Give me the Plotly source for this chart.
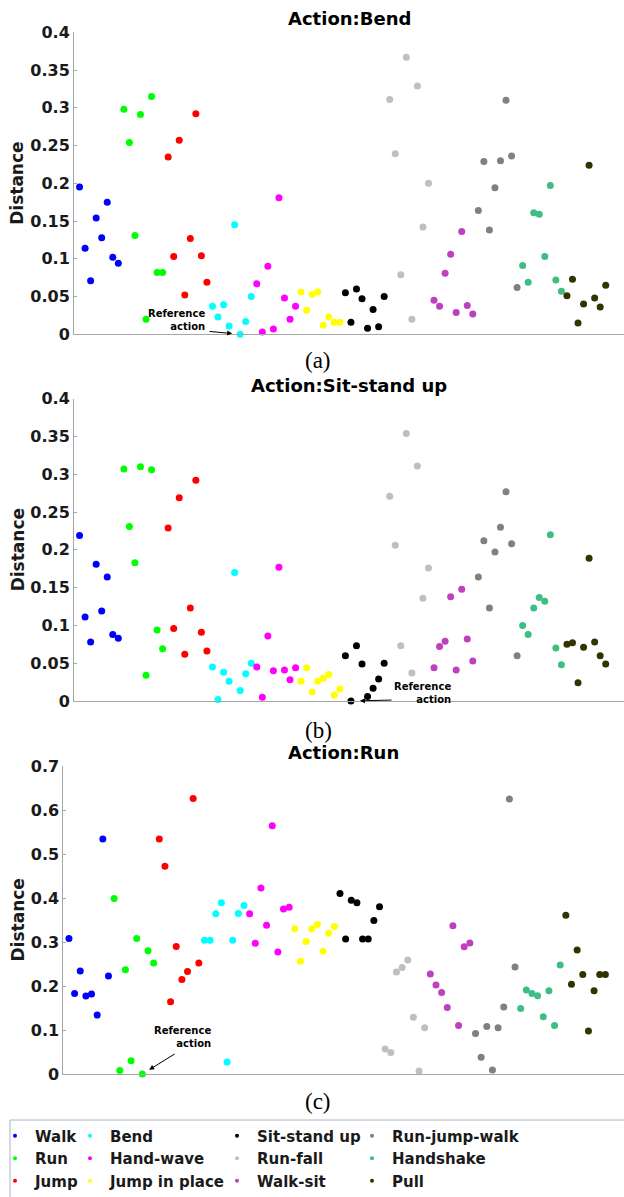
import plotly.graph_objects as go

categories = ["Walk", "Run", "Jump", "Bend", "Hand-wave", "Jump in place",
              "Sit-stand up", "Run-fall", "Walk-sit", "Run-jump-walk", "Handshake", "Pull"]

# Distances to the reference action "Bend" (panel a)
bend_values = [
    [0.195, 0.114, 0.071, 0.154, 0.128, 0.175, 0.102, 0.094],
    [0.298, 0.254, 0.131, 0.291, 0.020, 0.315, 0.082, 0.082],
    [0.235, 0.103, 0.257, 0.052, 0.127, 0.292, 0.104, 0.069],
    [0.037, 0.023, 0.039, 0.011, 0.145, 0.000, 0.017, 0.050],
    [0.067, 0.003, 0.090, 0.007, 0.181, 0.048, 0.020, 0.037],
    [0.056, 0.032, 0.053, 0.056, 0.012, 0.023, 0.016, 0.016],
    [0.055, 0.016, 0.060, 0.047, 0.008, 0.033, 0.010, 0.050],
    [0.311, 0.239, 0.079, 0.367, 0.020, 0.329, 0.142, 0.200],
    [0.045, 0.037, 0.081, 0.106, 0.029, 0.136, 0.038, 0.027],
    [0.164, 0.229, 0.138, 0.194, 0.230, 0.310, 0.236, 0.062],
    [0.091, 0.069, 0.161, 0.159, 0.103, 0.197, 0.072, 0.057],
    [0.051, 0.073, 0.015, 0.040, 0.224, 0.048, 0.036, 0.065],
]

# Distances to the reference action "Sit-stand up" (panel b)
sit_values = [
    [0.219, 0.111, 0.078, 0.181, 0.119, 0.164, 0.088, 0.083],
    [0.307, 0.231, 0.183, 0.310, 0.034, 0.306, 0.094, 0.069],
    [0.229, 0.096, 0.269, 0.062, 0.123, 0.292, 0.091, 0.066],
    [0.045, 0.002, 0.038, 0.026, 0.170, 0.014, 0.036, 0.050],
    [0.045, 0.005, 0.086, 0.040, 0.177, 0.041, 0.028, 0.044],
    [0.026, 0.044, 0.012, 0.026, 0.030, 0.035, 0.008, 0.016],
    [0.060, 0.000, 0.073, 0.049, 0.006, 0.017, 0.029, 0.050],
    [0.271, 0.206, 0.073, 0.354, 0.037, 0.311, 0.136, 0.176],
    [0.044, 0.072, 0.079, 0.138, 0.041, 0.148, 0.082, 0.053],
    [0.164, 0.212, 0.123, 0.197, 0.230, 0.277, 0.208, 0.060],
    [0.100, 0.088, 0.123, 0.137, 0.132, 0.220, 0.070, 0.048],
    [0.075, 0.077, 0.024, 0.071, 0.189, 0.078, 0.060, 0.049],
]

# Distances to the reference action "Run" (panel c)
run_values = [
    [0.308, 0.183, 0.234, 0.177, 0.182, 0.134, 0.534, 0.223],
    [0.399, 0.008, 0.237, 0.030, 0.308, 0.000, 0.280, 0.252],
    [0.534, 0.472, 0.164, 0.290, 0.215, 0.233, 0.626, 0.252],
    [0.304, 0.304, 0.364, 0.389, 0.027, 0.304, 0.365, 0.383],
    [0.364, 0.297, 0.423, 0.338, 0.564, 0.277, 0.375, 0.379],
    [0.330, 0.256, 0.301, 0.330, 0.340, 0.279, 0.320, 0.335],
    [0.410, 0.307, 0.395, 0.389, 0.307, 0.307, 0.349, 0.380],
    [0.057, 0.049, 0.232, 0.242, 0.259, 0.129, 0.007, 0.105],
    [0.227, 0.202, 0.185, 0.151, 0.337, 0.110, 0.289, 0.298],
    [0.092, 0.038, 0.108, 0.009, 0.105, 0.152, 0.625, 0.243],
    [0.149, 0.191, 0.183, 0.178, 0.130, 0.189, 0.110, 0.248],
    [0.361, 0.204, 0.282, 0.226, 0.098, 0.189, 0.226, 0.226],
]

titles = ["Action:Bend", "Action:Sit-stand up", "Action:Run"]
sublabels = ["(a)", "(b)", "(c)"]
ticks_small = [0, 0.05, 0.1, 0.15, 0.2, 0.25, 0.3, 0.35, 0.4]
ticklabels_small = ["0", "0.05", "0.1", "0.15", "0.2", "0.25", "0.3", "0.35", "0.4"]
ticks_large = [0, 0.1, 0.2, 0.3, 0.4, 0.5, 0.6, 0.7]
ticklabels_large = ["0", "0.1", "0.2", "0.3", "0.4", "0.5", "0.6", "0.7"]

colors = ["#0000ff", "#00ff00", "#ff0000", "#00ffff", "#ff00ff", "#ffff00",
          "#000000", "#bfbfbf", "#bf40bf", "#808080", "#3dbf82", "#333300"]

W, H = 624, 1197
BOLD = dict(family="DejaVu Sans", weight="bold", color="#1a1a1a")

fig = go.Figure()
panels = [bend_values, sit_values, run_values]
for p, vals in enumerate(panels):
    xa = "x" if p == 0 else f"x{p+1}"
    ya = "y" if p == 0 else f"y{p+1}"
    n = len(vals[0])
    for g, cat in enumerate(categories):
        xs = [g * n + j + 1 for j in range(n)]
        fig.add_trace(go.Scatter(
            x=xs, y=vals[g], mode="markers", name=cat, showlegend=False,
            marker=dict(color=colors[g], size=7, line=dict(width=0)),
            cliponaxis=False, xaxis=xa, yaxis=ya))

# legend entries (small dots), 4 column legends
legend_keys = ["legend", "legend2", "legend3", "legend4"]
for g, cat in enumerate(categories):
    fig.add_trace(go.Scatter(
        x=[None], y=[None], mode="markers", name=cat, showlegend=True,
        marker=dict(color=colors[g], size=4), legend=legend_keys[g // 3]))

def px_x(v):
    return v / W

def px_y(v):
    return 1 - v / H

# axis domains (pixel positions measured from reference)
doms = [
    ((74, W), (32.3, 334.3)),
    ((74, W), (398.7, 701.0)),
    ((63.3, W), (766.0, 1074.0)),
]
axis_common = dict(showline=True, linecolor="#a6a6a6", linewidth=1,
                   showgrid=False, zeroline=False)
layout = dict()
for p, ((x0, x1), (yt, yb)) in enumerate(doms):
    sfx = "" if p == 0 else str(p + 1)
    layout["xaxis" + sfx] = dict(domain=[px_x(x0), px_x(x1)], range=[0, 99.3],
                                 showticklabels=False, ticks="",
                                 anchor="y" + sfx, **axis_common)
    big = p == 2
    layout["yaxis" + sfx] = dict(domain=[px_y(yb), px_y(yt)],
                                 range=[0, 0.7 if big else 0.4],
                                 tickvals=ticks_large if big else ticks_small,
                                 ticktext=ticklabels_large if big else ticklabels_small,
                                 ticks="inside", ticklen=3, tickcolor="#a6a6a6",
                                 tickfont=dict(size=16, **BOLD),
                                 anchor="x" + sfx, **axis_common)

annotations = []
title_y = [18.5, 385, 752]
label_y = [360, 730, 1101]
for p, ((x0, x1), (yt, yb)) in enumerate(doms):
    annotations.append(dict(text=titles[p], x=px_x((x0 + x1) / 2), y=px_y(title_y[p]),
                            xref="paper", yref="paper", showarrow=False,
                            xanchor="center", yanchor="middle",
                            font=dict(size=18, family="DejaVu Sans", weight="bold", color="black")))
    annotations.append(dict(text="Distance", x=px_x(17.5), y=px_y((yt + yb) / 2),
                            xref="paper", yref="paper", showarrow=False, textangle=-90,
                            xanchor="center", yanchor="middle",
                            font=dict(size=17, **BOLD)))
    annotations.append(dict(text=sublabels[p], x=px_x(318), y=px_y(label_y[p]),
                            xref="paper", yref="paper", showarrow=False,
                            xanchor="center", yanchor="middle",
                            font=dict(size=23, family="Liberation Serif", color="black")))

# Reference-action callouts: (axis suffix, target x, target y, text x, text y, tail x, tail y, standoff)
refs = [
    ("", 30, 0.0, 24.0, 0.0185, 24.2, 0.004, 8),
    ("2", 50, 0.0, 68.4, 0.0106, 57.6, 0.0013, 9),
    ("3", 14, 0.0, 26.5, 0.084, 20.0, 0.0477, 8),
]
for sfx, tx, ty, lx, ly, ax, ay, so in refs:
    annotations.append(dict(text="Reference<br>action", x=lx, y=ly,
                            xref="x" + sfx, yref="y" + sfx, showarrow=False,
                            xanchor="right", yanchor="middle", align="right",
                            font=dict(size=10, family="DejaVu Sans", weight="bold", color="black")))
    annotations.append(dict(text="", x=tx, y=ty, ax=ax, ay=ay,
                            xref="x" + sfx, yref="y" + sfx, axref="x" + sfx, ayref="y" + sfx,
                            showarrow=True, arrowhead=2, arrowsize=1, arrowwidth=1,
                            arrowcolor="black", standoff=so))

shapes = [dict(type="rect", xref="paper", yref="paper",
               x0=px_x(10), x1=px_x(W + 2), y0=px_y(H + 2), y1=px_y(1120),
               line=dict(color="#a9b6cc", width=1), fillcolor="rgba(0,0,0,0)")]

legend_text_x = [35, 110, 257, 392]
for k, key in enumerate(legend_keys):
    layout[key] = dict(x=px_x(legend_text_x[k] - 40), y=px_y(1119.5), xanchor="left",
                       yanchor="top", orientation="v", bgcolor="rgba(0,0,0,0)",
                       borderwidth=0, tracegroupgap=0,
                       font=dict(size=15, **BOLD))

fig.update_layout(width=W, height=H, margin=dict(l=0, r=0, t=0, b=0, pad=0, autoexpand=False),
                  paper_bgcolor="white", plot_bgcolor="white",
                  annotations=annotations, shapes=shapes, **layout)

fig.write_html("out.html")
